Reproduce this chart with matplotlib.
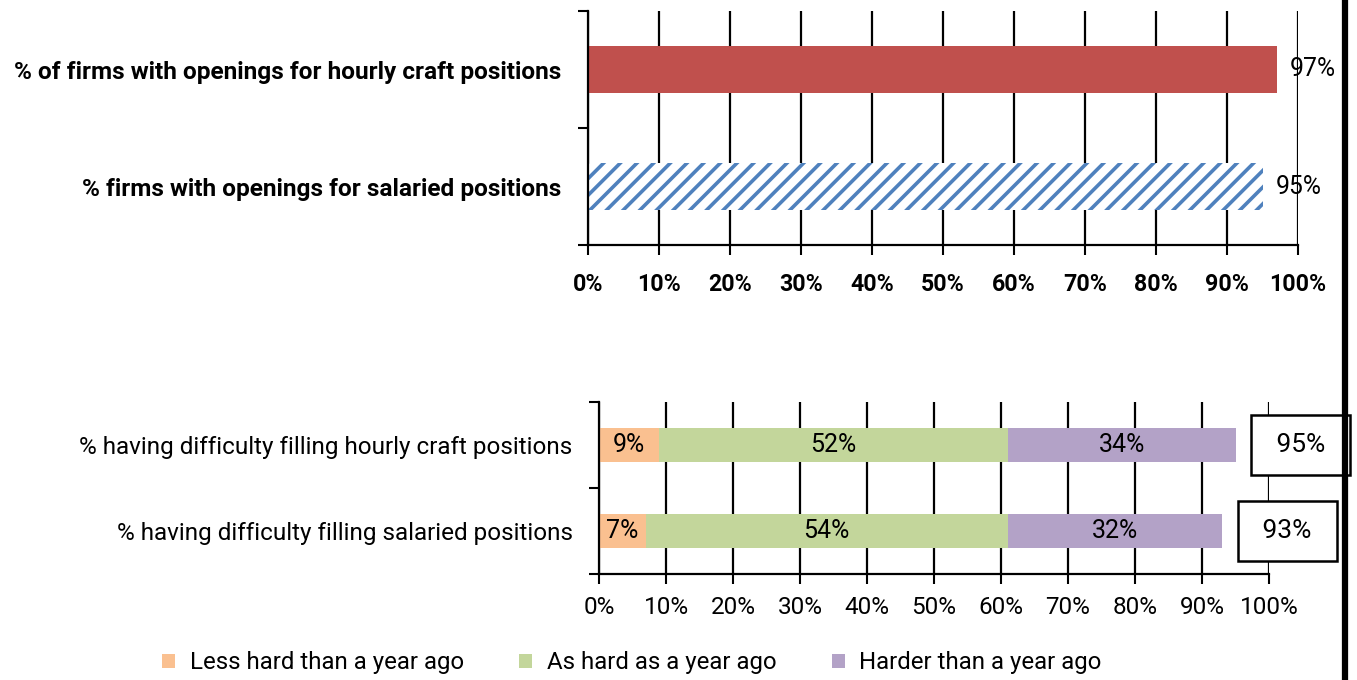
import matplotlib
matplotlib.use('Agg')
import matplotlib.pyplot as plt
from matplotlib.patches import Patch
from matplotlib.lines import Line2D

plt.rcParams['font.family'] = ['Roboto', 'DejaVu Sans']
plt.rcParams['hatch.linewidth'] = 2.6

# top chart: share of firms with openings
open_labels = ['% of firms with openings for hourly craft positions',
               '% firms with openings for salaried positions']
open_values = [97, 95]

# bottom chart: difficulty filling positions
diff_labels = ['% having difficulty filling hourly craft positions',
               '% having difficulty filling salaried positions']
less_hard = [9, 7]
as_hard = [52, 54]
harder = [34, 32]
diff_totals = [95, 93]
legend_labels = ['Less hard than a year ago', 'As hard as a year ago', 'Harder than a year ago']
seg_colors = ['#FAC090', '#C3D69B', '#B3A2C7']

x_ticks = list(range(0, 101, 10))
x_ticklabels = [f'{t}%' for t in x_ticks]

W, H = 1357, 680
fig = plt.figure(figsize=(W / 100, H / 100), dpi=100)


def style_axes(ax, labels, tick_size, tick_weight, label_size, label_weight, xpad):
    ax.set_xlim(0, 100)
    ax.set_ylim(-0.5, 1.5)
    ax.set_xticks(x_ticks)
    ax.set_xticklabels(x_ticklabels, fontsize=tick_size, fontweight=tick_weight)
    ax.set_yticks([-0.5, 0.5, 1.5])
    ax.set_yticklabels([])
    ax.set_yticks([1, 0], minor=True)
    ax.set_yticklabels(labels, minor=True, fontsize=label_size, fontweight=label_weight)
    ax.tick_params(axis='y', which='minor', length=0, pad=19)
    ax.tick_params(axis='y', which='major', length=7, width=1.5)
    ax.tick_params(axis='x', length=7, width=1.5, pad=xpad)
    ax.xaxis.grid(True, color='black', linewidth=1.6)
    ax.set_axisbelow(True)
    for s in ['top', 'right']:
        ax.spines[s].set_visible(False)
    for s in ['left', 'bottom']:
        ax.spines[s].set_linewidth(1.6)


# ---- top chart ----
ax1 = fig.add_axes([588 / W, 1 - 245 / H, 710 / W, 234 / H])
ax1.barh(1, open_values[0], height=0.4, color='#C0504D', linewidth=0)
ax1.barh(0, open_values[1], height=0.4, facecolor='white', edgecolor='#4F81BD',
         hatch='//', linewidth=0)
for y, v in zip([1, 0], open_values):
    ax1.text(v + 1.8, y, f'{v}%', va='center', ha='left', fontsize=17.8)
style_axes(ax1, open_labels, 16.7, 'bold', 17.6, 'bold', 13)

# ---- bottom chart ----
ax2 = fig.add_axes([599 / W, 1 - 574 / H, 670 / W, 172 / H])
ypos = [1, 0]
left = [0, 0]
for vals, col in zip([less_hard, as_hard, harder], seg_colors):
    ax2.barh(ypos, vals, left=left, height=0.4, color=col, linewidth=0)
    for y, l, v in zip(ypos, left, vals):
        ax2.text(l + v / 2, y, f'{v}%', ha='center', va='center', fontsize=18)
    left = [a + b for a, b in zip(left, vals)]
for y, t in zip(ypos, diff_totals):
    ax2.text(t + 5.1, y, f' {t}% ', ha='left', va='center', fontsize=19,
             bbox=dict(boxstyle='square,pad=0.7', facecolor='white',
                       edgecolor='black', linewidth=1.8))
style_axes(ax2, diff_labels, 17.5, 'normal', 17.5, 'normal', 9)

# legend
handles = [Patch(facecolor=c, edgecolor='none') for c in seg_colors]
fig.legend(handles, legend_labels, loc='center left', bbox_to_anchor=(162 / W, 1 - 663 / H),
           ncol=3, frameon=False, fontsize=17.3, borderpad=0, borderaxespad=0,
           handlelength=0.55, handleheight=0.55, handletextpad=0.6, columnspacing=2.3)

# thick rule at the right edge
fig.add_artist(Line2D([1344.5 / W, 1344.5 / W], [0, 1], color='black', linewidth=4.5,
                      transform=fig.transFigure))

fig.savefig('out.png', dpi=100)
